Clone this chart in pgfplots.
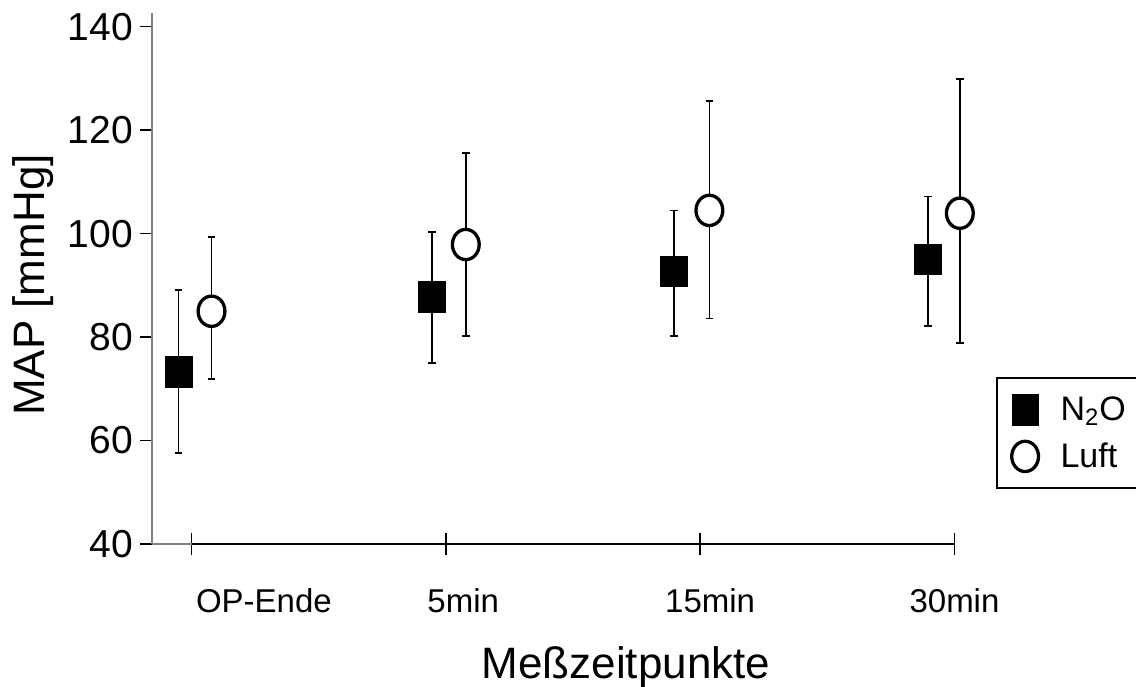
\documentclass[border=0pt]{standalone}
\usepackage{fontspec}
\setmainfont{Liberation Sans}
\usepackage{pgfplots}
\pgfplotsset{compat=1.18}
\begin{document}
\begin{tikzpicture}
\useasboundingbox (-76pt,-71pt) rectangle (492pt,272pt);
\begin{axis}[
  scale only axis, width=401.25pt, height=265.35pt,
  at={(0,0)}, anchor=south west,
  xmin=0.8439, xmax=4, ymin=40, ymax=142.6,
  clip=false,
  axis x line*=bottom, axis y line*=left,
  x axis line style={draw=gray, line width=0.8pt},
  y axis line style={draw=gray, line width=0.8pt},
  xtick={1,2,3,4}, xticklabels={},
  ytick={40,60,80,100,120,140},
  xtick align=center, ytick align=outside,
  major tick length=6pt,
  tick style={black, line width=0.75pt},
  x tick style={yscale=1.833},
  /pgf/number format/assume math mode=true,
  yticklabel style={font=\fontsize{19.5}{22}\selectfont},
  extra x ticks={1.284,2.068,3.039,4.0},
  extra x tick labels={OP-Ende,5min,15min,30min},
  extra x tick style={major tick length=0pt, xticklabel style={font=\fontsize{16.5}{19}\selectfont, anchor=base, yshift=-34pt}},
  xlabel={Meßzeitpunkte},
  ylabel={MAP [mmHg]},
  xlabel style={font=\fontsize{22}{26}\selectfont, at={(axis description cs:0.5907,0)}, anchor=base, yshift=-67pt},
  ylabel style={font=\fontsize{22}{26}\selectfont, at={(axis description cs:-0.1483,0.488)}, anchor=center},
  legend style={at={(axis description cs:1.052,0.314)}, anchor=north west, draw=black, line width=1pt,
    font=\fontsize{17}{20}\selectfont, row sep=5.75pt, inner xsep=7.25pt, inner ysep=7pt,
    /tikz/every odd column/.append style={column sep=9pt}},
  legend cell align=left,
]
\draw[black, line width=1pt] (axis cs:1,40) -- (axis cs:4,40);
\addplot[only marks, black, mark=square*, mark size=6.7pt,
  mark options={fill=black, draw=black, line width=0.2pt, yscale=1.13},
  error bars/.cd, y dir=both, y explicit,
  error bar style={line width=0.85pt, black},
  error mark options={rotate=90, mark size=1.9pt, line width=0.85pt, black}]
  coordinates {
  (0.948,73.3) += (0,15.8) -= (0,15.7)
  (1.944,87.8) += (0,12.5) -= (0,12.8)
  (2.896,92.7) += (0,11.8) -= (0,12.5)
  (3.896,95.1) += (0,12.1) -= (0,13.0)
  };
\addlegendentry{N\textsubscript{2}O}
\addplot[only marks, black, mark=*, mark size=6.7pt,
  mark options={fill=white, draw=black, line width=1.65pt, yscale=1.13},
  error bars/.cd, y dir=both, y explicit,
  error bar style={line width=0.85pt, black},
  error mark options={rotate=90, mark size=1.9pt, line width=0.85pt, black}]
  coordinates {
  (1.078,85.0) += (0,14.3) -= (0,13.1)
  (2.078,97.9) += (0,17.7) -= (0,17.7)
  (3.036,104.5) += (0,21.1) -= (0,20.9)
  (4.021,103.95) += (0,25.95) -= (0,25.05)
  };
\addlegendentry{Luft}
\end{axis}
\end{tikzpicture}
\end{document}
